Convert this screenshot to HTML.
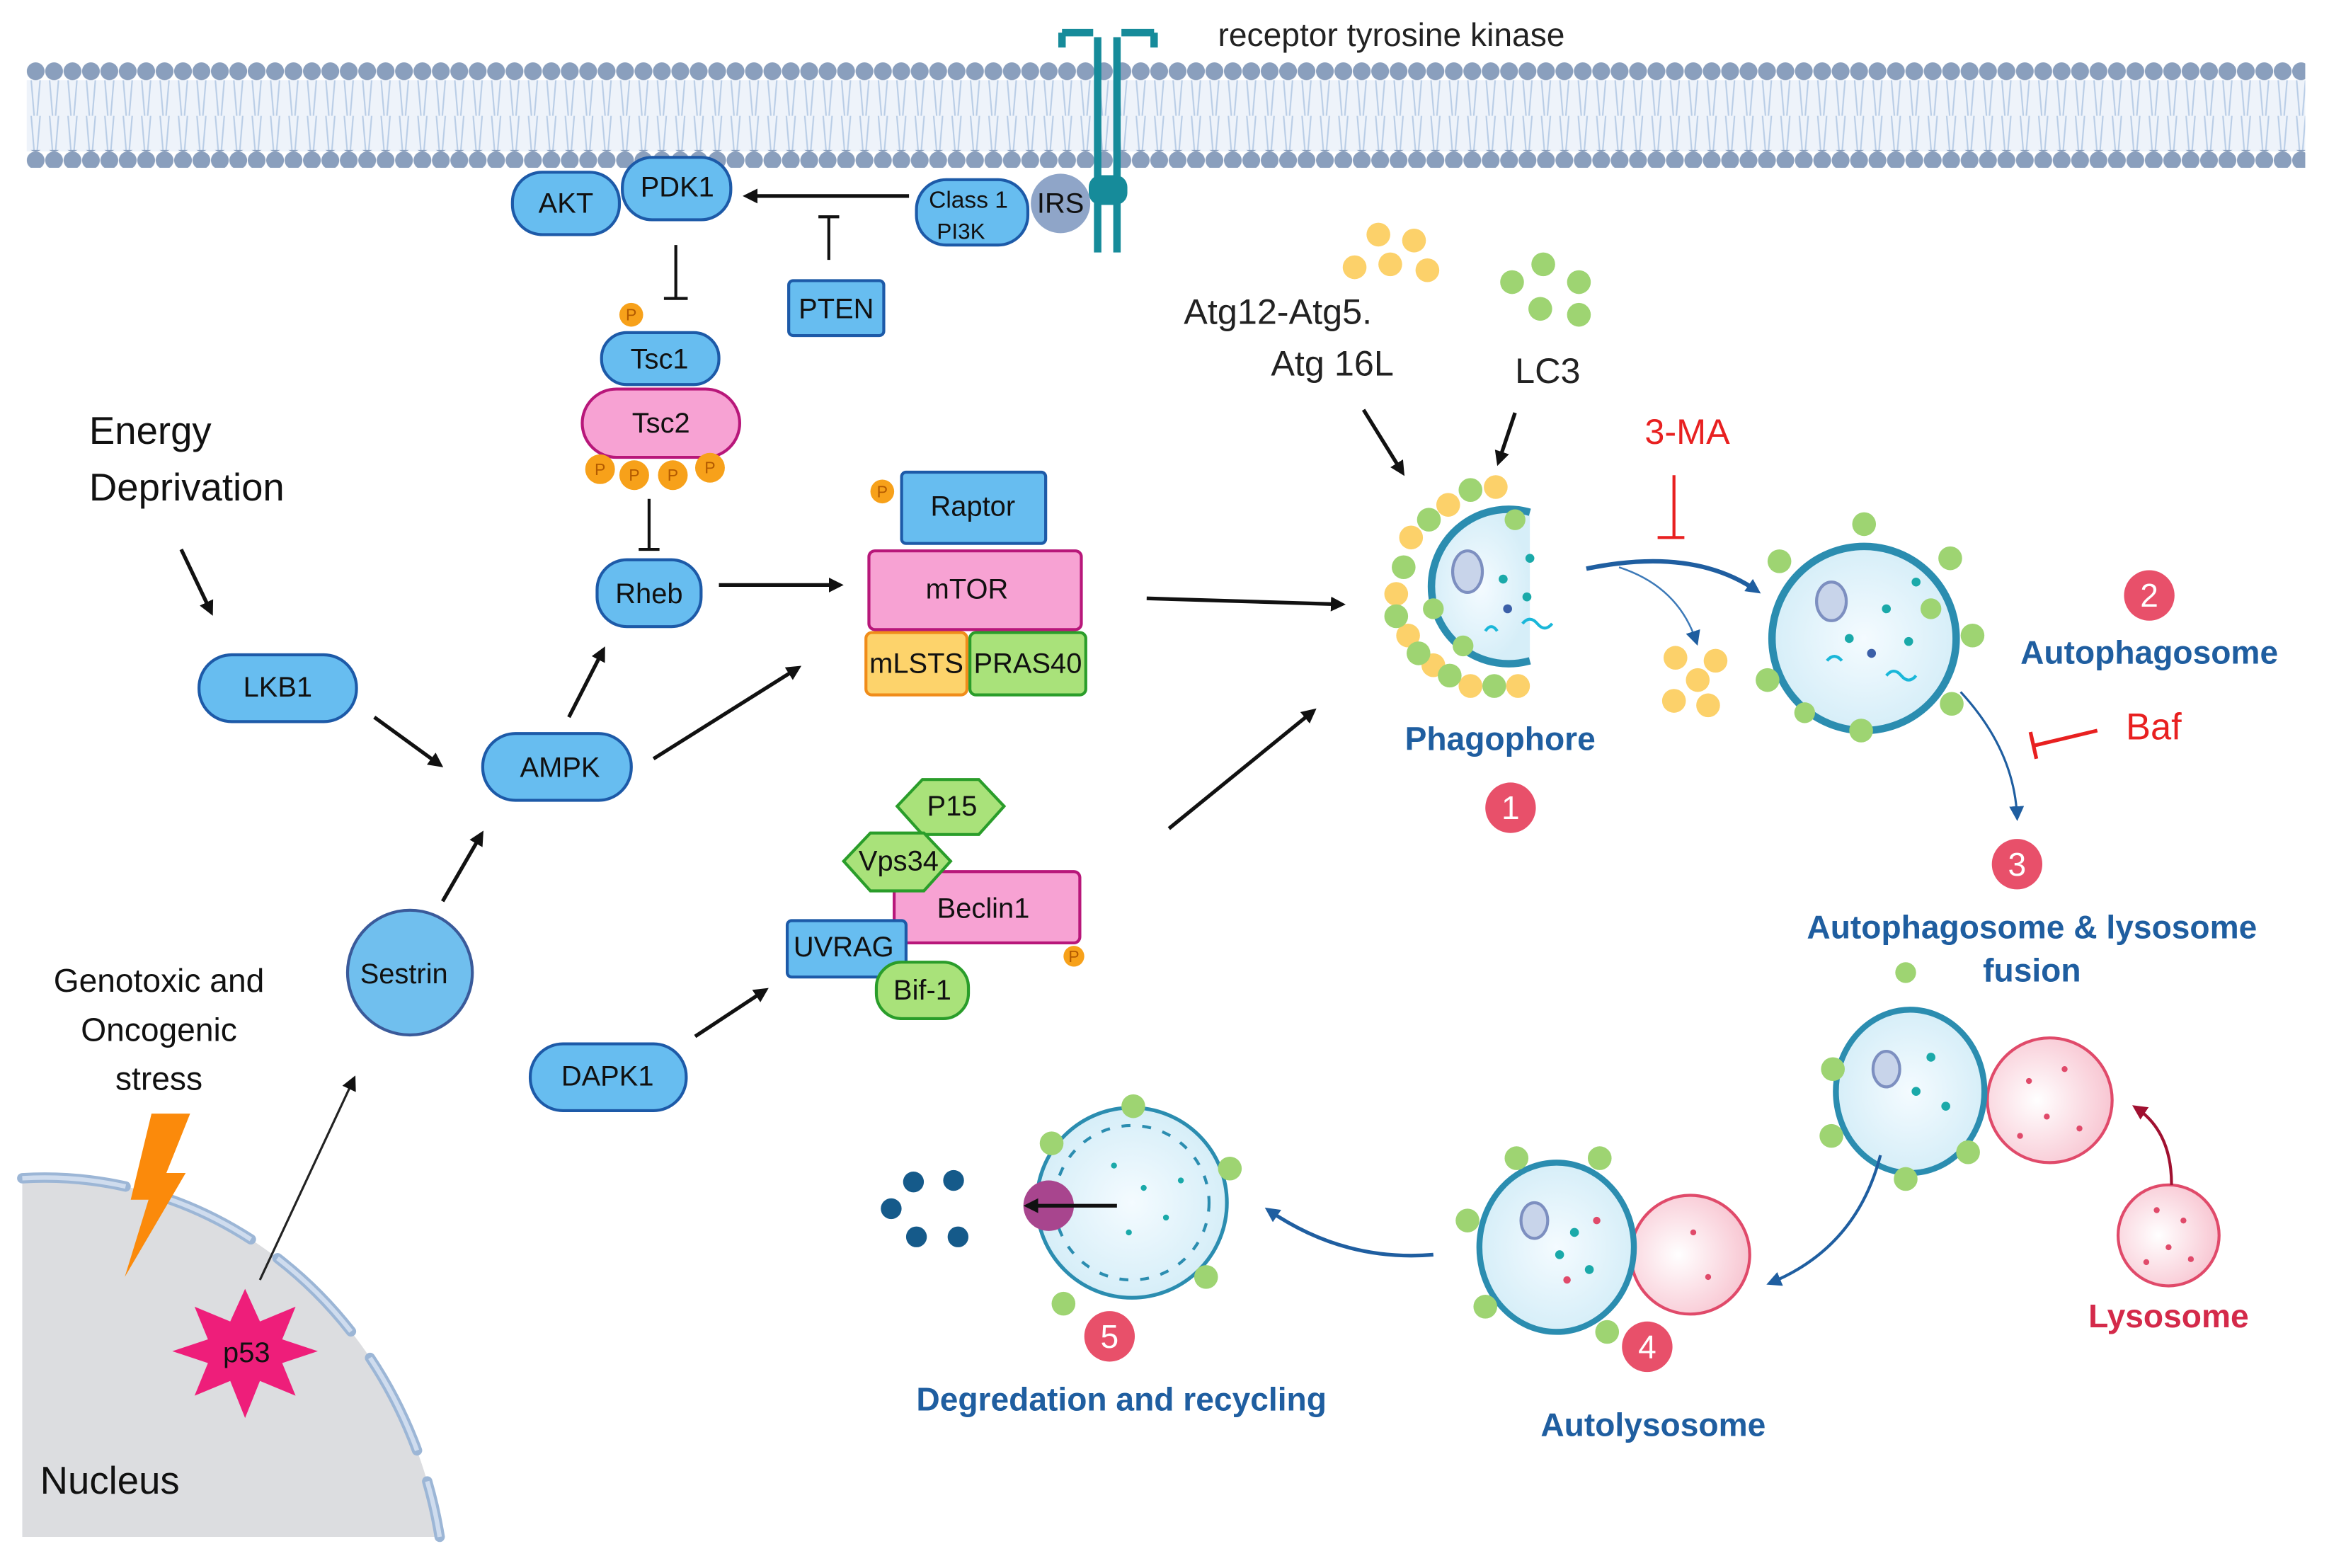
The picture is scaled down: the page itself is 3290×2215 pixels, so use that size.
<!DOCTYPE html>
<html><head><meta charset="utf-8"><style>
html,body{margin:0;padding:0;background:#fff;width:3290px;height:2215px;overflow:hidden}
svg{display:block}
text{font-family:"Liberation Sans",sans-serif}
.n{fill:#67bdf0;stroke:#1d5aa8;stroke-width:2}
.pk{fill:#f7a2d3;stroke:#b8177a;stroke-width:2}
.t{font-size:19px;fill:#111;text-anchor:middle;dominant-baseline:central}
.ar{stroke:#111;stroke-width:2.5;fill:none;marker-end:url(#ah)}
.inh{stroke:#111;stroke-width:2;fill:none}
.bl{fill:#1f5ea0;font-weight:bold;text-anchor:middle;font-size:22px}
.badge{fill:#e8506a}
.bt{fill:#fff;font-size:22px;text-anchor:middle;dominant-baseline:central}
.P{fill:#f7a11a}
.Pt{fill:#b35a00;font-size:11px;text-anchor:middle;dominant-baseline:central}
</style></head><body>
<svg width="3290" height="2215" viewBox="0 0 1568 1056" preserveAspectRatio="none" xmlns="http://www.w3.org/2000/svg">
<defs>
<marker id="ah" markerWidth="10" markerHeight="10" refX="7" refY="5" orient="auto" markerUnits="userSpaceOnUse"><path d="M0,0 L10,5 L0,10 z" fill="#111"/></marker>
<marker id="bh" markerWidth="10" markerHeight="10" refX="7" refY="5" orient="auto" markerUnits="userSpaceOnUse"><path d="M0,0 L10,5 L0,10 z" fill="#1f5ea0"/></marker>
<marker id="rh" markerWidth="10" markerHeight="10" refX="7" refY="5" orient="auto" markerUnits="userSpaceOnUse"><path d="M0,0 L10,5 L0,10 z" fill="#a01030"/></marker>
<pattern id="heads" width="12.4" height="12" patternUnits="userSpaceOnUse" x="18" y="42"><circle cx="6" cy="6" r="6" fill="#8a9fbd"/></pattern>
<pattern id="tails" width="12.4" height="24" patternUnits="userSpaceOnUse" x="18" y="54"><path d="M3,0 L5,24 M9,0 L7,24" stroke="#b9cde6" stroke-width="1"/></pattern>
<radialGradient id="cell" cx="50%" cy="50%" r="50%"><stop offset="0" stop-color="#f4fbff"/><stop offset="1" stop-color="#d6eef8"/></radialGradient>
<radialGradient id="lys" cx="40%" cy="50%" r="60%"><stop offset="0" stop-color="#fff"/><stop offset="1" stop-color="#f8c6d2"/></radialGradient>
</defs>

<rect x="18" y="54" width="1534" height="48" fill="#eef3fa"/>
<rect x="18" y="54" width="1534" height="24" fill="url(#tails)"/>
<rect x="18" y="78" width="1534" height="24" fill="url(#tails)"/>
<rect x="18" y="42" width="1534" height="12" fill="url(#heads)"/>
<rect x="18" y="101" width="1534" height="12" fill="url(#heads)"/>
<text x="820" y="31" font-size="22" fill="#222">receptor tyrosine kinase</text>

<g fill="none" stroke="#168b9a" stroke-width="5">
<path d="M739,25 V170 M752,25 V170"/>
<path d="M715,22 H736 M755,22 H777 M715,22 v10 M777,22 v10"/>
</g>
<rect x="733" y="118" width="26" height="20" rx="8" fill="#168b9a"/>

<rect class="n" x="345" y="116" width="72" height="42" rx="20"/><text class="t" x="381" y="137" font-size="17">AKT</text>
<rect class="n" x="419" y="106" width="73" height="42" rx="20"/><text class="t" x="456" y="126" font-size="17">PDK1</text>
<line class="ar" x1="612" y1="132" x2="503" y2="132"/>
<path class="inh" d="M558,175 V146 M551,146 H565"/>
<rect class="n" x="531" y="189" width="64" height="37" rx="3"/><text class="t" x="563" y="208">PTEN</text>
<rect class="n" x="617" y="121" width="75" height="44" rx="20"/>
<text x="652" y="140" font-size="16" text-anchor="middle" fill="#111">Class 1</text>
<text x="647" y="161" font-size="15" text-anchor="middle" fill="#111">PI3K</text>
<circle cx="714" cy="137" r="20" fill="#8fa5c8"/><text class="t" x="714" y="137" font-size="17">IRS</text>

<path class="inh" d="M455,165 V201 M447,201 H463"/>
<circle class="P" cx="425" cy="212" r="8"/><text class="Pt" x="425" y="212">P</text>
<rect class="n" x="405" y="224" width="79" height="35" rx="17"/><text class="t" x="444" y="242" font-size="22">Tsc1</text>
<rect class="pk" x="392" y="262" width="106" height="46" rx="23"/><text class="t" x="445" y="285" font-size="22">Tsc2</text>
<g><circle class="P" cx="404" cy="316" r="10"/><circle class="P" cx="427" cy="320" r="10"/><circle class="P" cx="453" cy="320" r="10"/><circle class="P" cx="478" cy="315" r="10"/>
<text class="Pt" x="404" y="316">P</text><text class="Pt" x="427" y="320">P</text><text class="Pt" x="453" y="320">P</text><text class="Pt" x="478" y="315">P</text></g>
<path class="inh" d="M437,336 V370 M430,370 H444"/>
<rect class="n" x="402" y="377" width="70" height="45" rx="20"/><text class="t" x="437" y="400">Rheb</text>
<line class="ar" x1="484" y1="394" x2="565" y2="394"/>

<circle class="P" cx="594" cy="331" r="8"/><text class="Pt" x="594" y="331">P</text>
<rect class="n" x="607" y="318" width="97" height="48" rx="3"/><text class="t" x="655" y="341" font-size="25">Raptor</text>
<rect class="pk" x="585" y="371" width="143" height="53" rx="4"/><text class="t" x="651" y="397" font-size="26">mTOR</text>
<rect x="583" y="426" width="68" height="42" rx="4" fill="#fdd36b" stroke="#f08c1a" stroke-width="2"/><text class="t" x="617" y="447" font-size="18">mLSTS</text>
<rect x="653" y="426" width="78" height="42" rx="4" fill="#a9e27a" stroke="#2a9d2a" stroke-width="2"/><text class="t" x="692" y="447" font-size="18">PRAS40</text>

<text x="60" y="299" font-size="26" fill="#111">Energy</text>
<text x="60" y="337" font-size="26" fill="#111">Deprivation</text>
<line class="ar" x1="122" y1="370" x2="142" y2="412"/>
<rect class="n" x="134" y="441" width="106" height="45" rx="22"/><text class="t" x="187" y="463" font-size="21">LKB1</text>
<line class="ar" x1="252" y1="483" x2="296" y2="515"/>
<rect class="n" x="325" y="494" width="100" height="45" rx="22"/><text class="t" x="377" y="517" font-size="21">AMPK</text>
<line class="ar" x1="383" y1="483" x2="406" y2="438"/>
<line class="ar" x1="440" y1="511" x2="537" y2="450"/>
<line class="ar" x1="772" y1="403" x2="903" y2="407"/>

<path d="M15,1035 L15,793.5 A270,292 0 0 1 296,1035 Z" fill="#dcdde0"/>
<path d="M15,793.5 A270,292 0 0 1 296,1035" fill="none" stroke="#9cb6d6" stroke-width="7" stroke-dasharray="70 22" stroke-linecap="round"/>
<path d="M15,793.5 A270,292 0 0 1 296,1035" fill="none" stroke="#cfdcee" stroke-width="3" stroke-dasharray="70 22"/>
<text x="27" y="1006" font-size="26" fill="#111">Nucleus</text>
<polygon fill="#fb8a0b" points="102,750 128,750 112,790 125,790 84,860 100,808 88,808"/>
<text x="107" y="668" font-size="22" fill="#111" text-anchor="middle">Genotoxic and</text>
<text x="107" y="701" font-size="22" fill="#111" text-anchor="middle">Oncogenic</text>
<text x="107" y="734" font-size="22" fill="#111" text-anchor="middle">stress</text>
<polygon fill="#ee1e7a" points="165,868 175,890 199,880 190,902 214,910 190,918 199,940 175,930 165,955 155,930 131,940 140,918 116,910 140,902 131,880 155,890"/>
<text class="t" x="166" y="911" font-size="20">p53</text>
<line x1="175" y1="862" x2="238" y2="727" stroke="#222" stroke-width="1.5" marker-end="url(#ah)"/>
<circle cx="276" cy="655" r="42" fill="#70bfee" stroke="#3a5a9a" stroke-width="2"/><text class="t" x="272" y="656" font-size="22">Sestrin</text>
<line class="ar" x1="298" y1="607" x2="324" y2="562"/>
<rect class="n" x="357" y="703" width="105" height="45" rx="22"/><text class="t" x="409" y="725" font-size="22">DAPK1</text>
<line class="ar" x1="468" y1="698" x2="515" y2="667"/>

<rect class="pk" x="602" y="587" width="125" height="48" rx="4"/><text class="t" x="662" y="612" font-size="25">Beclin1</text>
<polygon points="621,525 659,525 676,543 659,562 621,562 604,543" fill="#a9e27a" stroke="#2a9d2a" stroke-width="2"/><text class="t" x="641" y="543">P15</text>
<polygon points="586,561 622,561 640,580 622,600 586,600 568,580" fill="#a9e27a" stroke="#2a9d2a" stroke-width="2"/><text class="t" x="605" y="580" font-size="16">Vps34</text>
<rect class="n" x="530" y="620" width="80" height="38" rx="3"/><text class="t" x="568" y="638" font-size="19">UVRAG</text>
<rect x="590" y="648" width="62" height="38" rx="17" fill="#a9e27a" stroke="#2a9d2a" stroke-width="2"/><text class="t" x="621" y="667" font-size="19">Bif-1</text>
<circle class="P" cx="723" cy="644" r="7"/><text class="Pt" x="723" y="644" font-size="9">P</text>
<line class="ar" x1="787" y1="558" x2="884" y2="479"/>

<text x="797" y="218" font-size="24" fill="#222">Atg12-Atg5.</text>
<text x="897" y="253" font-size="24" fill="#222" text-anchor="middle">Atg 16L</text>
<text x="1042" y="258" font-size="24" fill="#222" text-anchor="middle">LC3</text>
<g fill="#fcd16a"><circle cx="928" cy="158" r="8"/><circle cx="952" cy="162" r="8"/><circle cx="912" cy="180" r="8"/><circle cx="936" cy="178" r="8"/><circle cx="961" cy="182" r="8"/></g>
<g fill="#9ed472"><circle cx="1039" cy="178" r="8"/><circle cx="1018" cy="190" r="8"/><circle cx="1063" cy="190" r="8"/><circle cx="1037" cy="208" r="8"/><circle cx="1063" cy="212" r="8"/></g>
<line class="ar" x1="918" y1="276" x2="944" y2="318"/>
<line class="ar" x1="1020" y1="278" x2="1009" y2="311"/>

<g>
<path d="M1030,345 A52,52 0 1 0 1030,445" fill="url(#cell)" stroke="#2b8db0" stroke-width="5"/>
<g fill="#fcd16a"><circle cx="975" cy="340" r="8"/><circle cx="1007" cy="328" r="8"/><circle cx="950" cy="362" r="8"/><circle cx="940" cy="400" r="8"/><circle cx="948" cy="428" r="8"/><circle cx="965" cy="448" r="8"/><circle cx="990" cy="462" r="8"/><circle cx="1022" cy="462" r="8"/></g>
<g fill="#9ed472"><circle cx="990" cy="330" r="8"/><circle cx="962" cy="350" r="8"/><circle cx="945" cy="382" r="8"/><circle cx="940" cy="415" r="8"/><circle cx="955" cy="440" r="8"/><circle cx="976" cy="455" r="8"/><circle cx="1006" cy="462" r="8"/><circle cx="1020" cy="350" r="7"/><circle cx="965" cy="410" r="7"/><circle cx="985" cy="435" r="7"/></g>
<ellipse cx="988" cy="385" rx="10" ry="14" fill="#c8d4ea" stroke="#7d8fc0" stroke-width="2"/>
<g fill="#1aa9a9"><circle cx="1012" cy="390" r="3"/><circle cx="1030" cy="376" r="3"/><circle cx="1028" cy="402" r="3"/></g>
<circle cx="1015" cy="410" r="3" fill="#3b5fa8"/>
<path d="M1025,420 q5,-6 10,0 t10,0 M1000,425 q4,-6 8,0" stroke="#1ab7d9" stroke-width="2" fill="none"/>
</g>
<text class="bl" x="1010" y="505">Phagophore</text>
<circle class="badge" cx="1017" cy="544" r="17"/><text class="bt" x="1017" y="544">1</text>

<text x="1136" y="299" font-size="24" fill="#e82020" text-anchor="middle">3-MA</text>
<path d="M1127,320 V362 M1116,362 H1134" stroke="#e82020" stroke-width="2" fill="none"/>
<path d="M1068,383 Q1140,368 1183,398" stroke="#1f5ea0" stroke-width="3" fill="none" marker-end="url(#bh)"/>
<path d="M1090,382 Q1130,395 1142,432" stroke="#3d7ab8" stroke-width="1.2" fill="none" marker-end="url(#bh)"/>
<g fill="#fcd16a"><circle cx="1128" cy="443" r="8"/><circle cx="1155" cy="445" r="8"/><circle cx="1143" cy="458" r="8"/><circle cx="1127" cy="472" r="8"/><circle cx="1150" cy="475" r="8"/></g>

<circle cx="1255" cy="430" r="62" fill="url(#cell)" stroke="#2b8db0" stroke-width="5"/>
<g fill="#9ed472"><circle cx="1255" cy="353" r="8"/><circle cx="1198" cy="378" r="8"/><circle cx="1313" cy="376" r="8"/><circle cx="1190" cy="458" r="8"/><circle cx="1328" cy="428" r="8"/><circle cx="1314" cy="474" r="8"/><circle cx="1253" cy="492" r="8"/><circle cx="1215" cy="480" r="7"/><circle cx="1300" cy="410" r="7"/></g>
<ellipse cx="1233" cy="405" rx="10" ry="13" fill="#c8d4ea" stroke="#7d8fc0" stroke-width="2"/>
<g fill="#1aa9a9"><circle cx="1270" cy="410" r="3"/><circle cx="1290" cy="392" r="3"/><circle cx="1245" cy="430" r="3"/><circle cx="1285" cy="432" r="3"/></g>
<circle cx="1260" cy="440" r="3" fill="#3b5fa8"/>
<path d="M1230,445 q5,-6 10,0 M1270,455 q5,-6 10,0 t10,0" stroke="#1ab7d9" stroke-width="2" fill="none"/>
<circle class="badge" cx="1447" cy="401" r="17"/><text class="bt" x="1447" y="401">2</text>
<text class="bl" x="1447" y="447">Autophagosome</text>
<text x="1450" y="498" font-size="25" fill="#e82020" text-anchor="middle">Baf</text>
<path d="M1412,492 L1370,502 M1367,493 L1371,511" stroke="#e82020" stroke-width="2.5" fill="none"/>
<path d="M1320,466 Q1356,505 1358,550" stroke="#1f5ea0" stroke-width="1.5" fill="none" marker-end="url(#bh)"/>
<circle class="badge" cx="1358" cy="582" r="17"/><text class="bt" x="1358" y="582">3</text>
<text class="bl" x="1368" y="632">Autophagosome &amp; lysosome</text>
<text class="bl" x="1368" y="661">fusion</text>

<circle cx="1283" cy="655" r="7" fill="#9ed472"/>
<circle cx="1380" cy="741" r="42" fill="url(#lys)" stroke="#e04a6a" stroke-width="2"/>
<ellipse cx="1286" cy="735" rx="50" ry="55" fill="url(#cell)" stroke="#2b8db0" stroke-width="4"/>
<g fill="#9ed472"><circle cx="1234" cy="720" r="8"/><circle cx="1233" cy="765" r="8"/><circle cx="1283" cy="794" r="8"/><circle cx="1325" cy="776" r="8"/></g>
<ellipse cx="1270" cy="720" rx="9" ry="12" fill="#c8d4ea" stroke="#7d8fc0" stroke-width="2"/>
<g fill="#e04a6a"><circle cx="1366" cy="728" r="2"/><circle cx="1390" cy="720" r="2"/><circle cx="1378" cy="752" r="2"/><circle cx="1400" cy="760" r="2"/><circle cx="1360" cy="765" r="2"/></g>
<g fill="#1aa9a9"><circle cx="1300" cy="712" r="3"/><circle cx="1290" cy="735" r="3"/><circle cx="1310" cy="745" r="3"/></g>
<circle cx="1460" cy="832" r="34" fill="url(#lys)" stroke="#e04a6a" stroke-width="2"/>
<g fill="#e04a6a"><circle cx="1452" cy="815" r="2"/><circle cx="1470" cy="822" r="2"/><circle cx="1460" cy="840" r="2"/><circle cx="1445" cy="850" r="2"/><circle cx="1475" cy="848" r="2"/></g>
<path d="M1462,798 Q1462,762 1438,746" stroke="#a01030" stroke-width="2" fill="none" marker-end="url(#rh)"/>
<text x="1460" y="894" font-size="22" fill="#d42a4a" font-weight="bold" text-anchor="middle">Lysosome</text>
<path d="M1266,778 Q1250,840 1192,864" stroke="#1f5ea0" stroke-width="2" fill="none" marker-end="url(#bh)"/>

<circle cx="1138" cy="845" r="40" fill="url(#lys)" stroke="#e04a6a" stroke-width="2"/>
<ellipse cx="1048" cy="840" rx="52" ry="57" fill="url(#cell)" stroke="#2b8db0" stroke-width="4"/>
<g fill="#9ed472"><circle cx="1021" cy="780" r="8"/><circle cx="1077" cy="780" r="8"/><circle cx="988" cy="822" r="8"/><circle cx="1000" cy="880" r="8"/><circle cx="1082" cy="897" r="8"/></g>
<ellipse cx="1033" cy="822" rx="9" ry="12" fill="#c8d4ea" stroke="#7d8fc0" stroke-width="2"/>
<g fill="#1aa9a9"><circle cx="1060" cy="830" r="3"/><circle cx="1050" cy="845" r="3"/><circle cx="1070" cy="855" r="3"/></g>
<g fill="#e04a6a"><circle cx="1075" cy="822" r="2.5"/><circle cx="1055" cy="862" r="2.5"/><circle cx="1140" cy="830" r="2"/><circle cx="1150" cy="860" r="2"/></g>
<circle class="badge" cx="1109" cy="907" r="17"/><text class="bt" x="1109" y="907">4</text>
<text class="bl" x="1113" y="967">Autolysosome</text>
<path d="M965,845 Q905,850 854,815" stroke="#1f5ea0" stroke-width="2.5" fill="none" marker-end="url(#bh)"/>

<circle cx="762" cy="810" r="64" fill="url(#cell)" stroke="#2b8db0" stroke-width="2.5"/>
<circle cx="762" cy="810" r="52" fill="none" stroke="#2b8db0" stroke-width="2" stroke-dasharray="6 8"/>
<g fill="#9ed472"><circle cx="763" cy="745" r="8"/><circle cx="708" cy="770" r="8"/><circle cx="828" cy="787" r="8"/><circle cx="812" cy="860" r="8"/><circle cx="716" cy="878" r="8"/></g>
<g fill="#1aa9a9"><circle cx="770" cy="800" r="2"/><circle cx="785" cy="820" r="2"/><circle cx="760" cy="830" r="2"/><circle cx="795" cy="795" r="2"/><circle cx="750" cy="785" r="2"/></g>
<circle cx="706" cy="812" r="17" fill="#a8458e"/>
<line class="ar" x1="752" y1="812" x2="692" y2="812"/>
<g fill="#155a8a"><circle cx="615" cy="796" r="7"/><circle cx="642" cy="795" r="7"/><circle cx="600" cy="814" r="7"/><circle cx="617" cy="833" r="7"/><circle cx="645" cy="833" r="7"/></g>
<circle class="badge" cx="747" cy="900" r="17"/><text class="bt" x="747" y="900">5</text>
<text class="bl" x="755" y="950">Degredation and recycling</text>
</svg>
</body></html>
